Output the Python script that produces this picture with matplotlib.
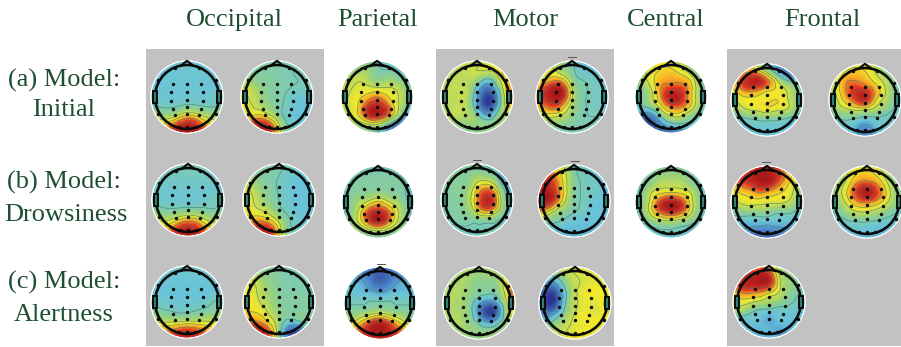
import numpy as np
import matplotlib
matplotlib.use("Agg")
import matplotlib.pyplot as plt
import matplotlib.tri as mtri
from matplotlib.colors import LinearSegmentedColormap
from matplotlib.patches import Circle, Rectangle

# ---- labels ----
col_names = ["Occipital", "Parietal", "Motor", "Central", "Frontal"]
row_names = ["(a) Model:", "Initial", "(b) Model:", "Drowsiness", "(c) Model:", "Alertness"]

# ---- scalp values, 0 = navy, 100 = dark red ----
# rows run top to bottom of the head, columns left to right
occ_a = [[38]*9,
         [33, 35, 37, 38, 38, 38, 37, 35, 33],
         [33, 36, 37, 37, 37, 37, 37, 36, 33],
         [38, 37, 37, 37, 37, 37, 37, 37, 38],
         [42, 38, 37, 37, 38, 38, 38, 40, 42],
         [47, 43, 42, 43, 46, 45, 43, 43, 47],
         [58, 55, 54, 62, 72, 68, 58, 55, 58],
         [65, 68, 76, 88, 96, 90, 76, 66, 65],
         [70, 75, 85, 92, 98, 92, 85, 75, 70]]
occ_b = [[45]*9,
         [50, 48, 46, 46, 45, 44, 43, 42, 40],
         [55, 52, 47, 46, 45, 44, 43, 42, 40],
         [62, 58, 52, 47, 45, 44, 42, 42, 42],
         [65, 60, 55, 48, 45, 42, 38, 38, 40],
         [68, 62, 58, 52, 46, 41, 37, 36, 38],
         [70, 68, 72, 66, 52, 40, 36, 36, 38],
         [80, 88, 94, 90, 68, 45, 38, 36, 38],
         [85, 90, 95, 90, 68, 48, 40, 40, 40]]
par_a = [[45, 45, 42, 42, 38, 35, 35, 35, 35],
         [48, 48, 50, 52, 45, 42, 40, 35, 33],
         [50, 55, 58, 55, 48, 50, 48, 42, 35],
         [52, 58, 62, 62, 60, 60, 58, 50, 40],
         [50, 60, 66, 72, 78, 70, 62, 52, 40],
         [50, 60, 68, 88, 96, 85, 64, 48, 32],
         [48, 56, 66, 86, 92, 80, 56, 32, 15],
         [47, 50, 52, 55, 55, 40, 20, 10, 5],
         [46, 48, 48, 48, 45, 25, 5, 2, 0]]
mot_a = [[55, 55, 55, 58, 60, 62, 62, 62, 55],
         [55, 55, 57, 58, 60, 62, 65, 70, 62],
         [55, 56, 57, 57, 55, 46, 55, 70, 70],
         [55, 57, 58, 56, 40, 20, 38, 68, 78],
         [55, 57, 58, 56, 30, 5, 22, 65, 82],
         [55, 56, 58, 55, 32, 8, 28, 62, 70],
         [52, 55, 57, 55, 48, 34, 46, 55, 55],
         [50]*9,
         [50]*9]
mot_b = [[45, 48, 50, 48, 42, 36, 34, 34, 34],
         [55, 58, 60, 52, 45, 38, 35, 33, 32],
         [62, 66, 70, 66, 50, 42, 40, 38, 35],
         [68, 82, 94, 90, 60, 45, 42, 40, 34],
         [68, 88, 98, 94, 62, 45, 42, 40, 34],
         [68, 76, 84, 74, 55, 45, 42, 40, 35],
         [60, 62, 62, 58, 50, 44, 43, 42, 40],
         [48, 48, 48, 47, 45, 44, 44, 44, 44],
         [45]*9]
cen_a = [[52, 58, 62, 64, 62, 55, 45, 40, 38],
         [50, 56, 64, 68, 68, 62, 52, 42, 38],
         [46, 55, 66, 72, 74, 72, 65, 48, 38],
         [44, 50, 62, 78, 84, 84, 72, 52, 40],
         [42, 46, 58, 78, 96, 92, 72, 52, 42],
         [40, 42, 50, 66, 80, 80, 68, 50, 42],
         [25, 18, 22, 45, 60, 60, 50, 42, 38],
         [5, 5, 10, 22, 35, 38, 38, 36, 35],
         [0, 0, 5, 10, 15, 15, 20, 30, 30]]
fro_a = [[55, 60, 62, 55, 40, 25, 15, 15, 20],
         [60, 68, 75, 72, 55, 35, 20, 20, 25],
         [65, 78, 92, 95, 82, 62, 45, 38, 35],
         [62, 72, 80, 78, 70, 66, 60, 50, 42],
         [52, 62, 66, 66, 66, 68, 62, 52, 45],
         [48, 54, 60, 62, 65, 62, 60, 50, 42],
         [40, 40, 42, 45, 46, 45, 42, 38, 36],
         [35, 35, 36, 37, 37, 37, 36, 35, 35],
         [35]*9]
fro_b = [[50, 58, 64, 66, 62, 52, 45, 40, 38],
         [50, 60, 68, 70, 68, 60, 52, 44, 38],
         [50, 62, 76, 78, 74, 66, 58, 48, 38],
         [48, 62, 78, 88, 88, 76, 62, 48, 38],
         [46, 58, 72, 85, 92, 72, 58, 46, 38],
         [44, 52, 58, 62, 62, 56, 50, 42, 36],
         [40, 42, 44, 42, 38, 40, 40, 37, 35],
         [36, 37, 38, 32, 22, 32, 38, 36, 35],
         [36, 37, 38, 34, 28, 34, 37, 36, 35]]

occ_c = [[42]*9,
         [40, 41, 42, 42, 42, 42, 40, 38, 36],
         [38, 40, 40, 40, 40, 40, 40, 38, 36],
         [40, 39, 38, 38, 38, 38, 38, 38, 38],
         [44, 40, 38, 38, 38, 38, 40, 42, 44],
         [50, 46, 44, 45, 46, 46, 44, 44, 48],
         [60, 58, 58, 66, 72, 68, 58, 56, 58],
         [65, 68, 76, 88, 94, 88, 74, 66, 65],
         [70, 75, 85, 92, 95, 90, 85, 72, 68]]
occ_d = [[48, 48, 48, 46, 44, 42, 40, 38, 38],
         [52, 50, 48, 46, 44, 40, 38, 36, 36],
         [58, 54, 48, 45, 42, 38, 36, 36, 36],
         [62, 60, 52, 47, 42, 38, 36, 36, 36],
         [65, 62, 55, 48, 43, 38, 36, 36, 36],
         [68, 64, 60, 55, 46, 40, 37, 36, 36],
         [70, 72, 74, 68, 56, 44, 38, 37, 38],
         [78, 86, 92, 88, 66, 46, 40, 38, 38],
         [82, 90, 95, 88, 66, 48, 42, 40, 40]]
par_b = [[35, 38, 40, 42, 42, 40, 38, 35, 33],
         [35, 38, 42, 44, 44, 44, 42, 38, 33],
         [36, 42, 46, 46, 46, 46, 46, 42, 35],
         [38, 44, 48, 48, 50, 48, 46, 42, 36],
         [40, 46, 54, 62, 70, 62, 54, 44, 38],
         [42, 46, 62, 84, 92, 82, 62, 46, 40],
         [44, 48, 62, 84, 96, 82, 60, 46, 42],
         [46, 48, 50, 55, 60, 55, 50, 46, 42],
         [45]*9]
mot_c = [[46, 46, 46, 46, 44, 42, 36, 25, 20],
         [46, 47, 47, 47, 48, 46, 40, 25, 18],
         [46, 47, 47, 48, 58, 60, 50, 30, 28],
         [45, 46, 47, 52, 70, 82, 68, 40, 30],
         [44, 46, 47, 54, 76, 94, 78, 44, 32],
         [43, 45, 46, 50, 68, 82, 68, 44, 34],
         [42, 44, 45, 46, 48, 50, 46, 40, 36],
         [42]*9,
         [42]*9]
mot_d = [[70, 75, 68, 55, 42, 38, 36, 34, 34],
         [82, 88, 75, 62, 46, 40, 38, 36, 34],
         [88, 92, 82, 65, 48, 42, 40, 36, 34],
         [92, 98, 88, 66, 48, 42, 40, 36, 34],
         [92, 98, 85, 62, 46, 42, 38, 36, 34],
         [80, 75, 60, 50, 44, 40, 36, 35, 34],
         [55, 50, 46, 42, 38, 36, 36, 36, 36],
         [42, 38, 36, 34, 34, 34, 34, 34, 34],
         [34]*9]
cen_b = [[38, 42, 45, 46, 45, 44, 42, 38, 35],
         [38, 42, 46, 50, 50, 50, 46, 42, 36],
         [40, 44, 50, 56, 56, 56, 50, 44, 38],
         [40, 46, 60, 66, 68, 66, 60, 46, 40],
         [40, 48, 66, 88, 96, 88, 66, 48, 40],
         [40, 48, 66, 84, 92, 84, 64, 46, 40],
         [38, 44, 50, 56, 58, 54, 48, 42, 38],
         [35, 38, 40, 42, 42, 40, 38, 36, 35],
         [32, 34, 35, 35, 35, 35, 35, 34, 32]]
fro_c = [[70, 80, 88, 92, 90, 85, 70, 60, 55],
         [72, 85, 92, 98, 98, 90, 75, 62, 52],
         [70, 80, 88, 96, 98, 86, 72, 60, 50],
         [62, 68, 72, 78, 76, 70, 66, 56, 48],
         [55, 60, 64, 64, 62, 62, 60, 52, 46],
         [45, 48, 50, 50, 50, 46, 46, 42, 40],
         [38, 38, 36, 36, 36, 36, 36, 36, 36],
         [30, 28, 25, 22, 20, 22, 25, 30, 32],
         [22, 20, 18, 15, 15, 15, 18, 22, 25]]
fro_d = [[40, 48, 55, 62, 62, 58, 50, 42, 38],
         [42, 50, 60, 68, 70, 66, 56, 46, 40],
         [44, 54, 64, 78, 82, 76, 62, 50, 42],
         [44, 56, 70, 88, 98, 86, 68, 52, 42],
         [42, 52, 64, 76, 80, 74, 62, 50, 40],
         [40, 46, 54, 60, 60, 56, 50, 44, 38],
         [36, 38, 42, 44, 44, 42, 40, 38, 36],
         [33, 35, 36, 37, 36, 34, 35, 35, 34],
         [32, 33, 34, 34, 34, 34, 34, 33, 32]]

occ_e = [[42]*9,
         [40, 38, 38, 38, 38, 38, 38, 38, 38],
         [38, 37, 37, 37, 37, 37, 37, 37, 38],
         [38, 37, 36, 36, 36, 36, 36, 38, 40],
         [44, 40, 38, 37, 37, 38, 40, 44, 46],
         [50, 46, 44, 42, 42, 44, 46, 48, 52],
         [60, 58, 58, 58, 60, 60, 60, 60, 60],
         [72, 76, 78, 84, 88, 84, 76, 70, 65],
         [80, 85, 88, 92, 95, 90, 85, 75, 68]]
occ_f = [[50, 52, 50, 46, 45, 44, 44, 42, 42],
         [58, 58, 52, 48, 46, 44, 44, 42, 40],
         [62, 62, 56, 50, 46, 45, 44, 44, 42],
         [66, 64, 58, 52, 47, 45, 45, 44, 42],
         [66, 66, 60, 54, 48, 46, 46, 46, 46],
         [70, 68, 66, 58, 50, 46, 46, 46, 46],
         [75, 78, 76, 66, 52, 40, 42, 46, 46],
         [85, 92, 95, 80, 50, 18, 10, 30, 42],
         [90, 95, 98, 85, 50, 15, 5, 25, 38]]
par_c = [[30, 28, 22, 18, 18, 20, 25, 30, 35],
         [32, 32, 25, 18, 12, 18, 25, 30, 32],
         [38, 36, 32, 22, 16, 22, 30, 32, 34],
         [40, 38, 36, 34, 30, 34, 36, 36, 36],
         [42, 42, 42, 44, 44, 44, 42, 42, 42],
         [48, 48, 50, 55, 58, 54, 50, 46, 44],
         [52, 58, 70, 85, 92, 82, 68, 55, 46],
         [60, 72, 85, 95, 100, 92, 82, 70, 55],
         [62, 75, 88, 92, 90, 90, 82, 70, 55]]
mot_e = [[52, 52, 52, 52, 52, 52, 55, 60, 62],
         [52, 52, 54, 54, 52, 52, 55, 65, 70],
         [52, 54, 55, 52, 48, 48, 52, 70, 80],
         [54, 55, 55, 50, 46, 44, 48, 68, 90],
         [54, 55, 54, 48, 32, 20, 34, 62, 80],
         [54, 55, 54, 48, 24, 4, 20, 58, 62],
         [52, 55, 55, 50, 40, 28, 40, 52, 55],
         [50, 50, 52, 52, 50, 50, 50, 50, 50],
         [50]*9]
mot_f = [[55, 56, 58, 60, 60, 62, 60, 55, 50],
         [48, 45, 48, 55, 60, 62, 62, 58, 52],
         [38, 25, 28, 48, 58, 62, 64, 64, 58],
         [25, 8, 10, 40, 58, 65, 66, 66, 66],
         [20, 5, 8, 42, 58, 64, 62, 68, 72],
         [28, 18, 28, 48, 60, 65, 62, 66, 68],
         [42, 40, 48, 56, 62, 65, 66, 64, 60],
         [54, 54, 58, 60, 64, 65, 65, 62, 58],
         [58, 60, 62, 64, 65, 65, 64, 60, 56]]
fro_e = [[55, 62, 70, 72, 68, 55, 48, 45, 45],
         [62, 78, 88, 92, 88, 60, 50, 46, 45],
         [72, 88, 96, 98, 94, 65, 52, 46, 44],
         [68, 78, 80, 78, 70, 60, 50, 44, 40],
         [62, 64, 62, 58, 54, 50, 46, 40, 38],
         [50, 52, 46, 40, 38, 38, 38, 36, 35],
         [40, 36, 36, 36, 30, 36, 36, 35, 35],
         [36, 36, 36, 32, 34, 28, 32, 34, 35],
         [36]*9]

# ---- electrode positions on the head, radius 1 ----
elec_x = [-.45, 0, .45, -.5, 0, .5, -.5, 0, .5, -.44, 0, .44, -.36, 0, .36,
          -.36, .36, -.92, .92, -.92, .92, -.26, 0, .26]
elec_y = [.42, .40, .42, .15, .15, .15, -.12, -.10, -.12, -.36, -.31, -.36, -.55, -.52, -.55,
          .92, .92, .52, .52, -.52, -.52, -.93, -.93, -.93]

# little grey marks above a few heads
mark_x = [572, 477, 575, 766, 381]
mark_y = [57, 160, 161, 162, 264]

cmap = LinearSegmentedColormap.from_list("eeg", [
    (0.00, "#2b2f8f"), (0.20, "#4a7fc8"), (0.36, "#69c4da"), (0.44, "#7fcbb0"),
    (0.52, "#9bd27a"), (0.60, "#d2e04a"), (0.66, "#f4e92b"), (0.75, "#f8a822"),
    (0.86, "#e5301f"), (1.00, "#a81a1a")])

GREEN = "#1f4f33"
GREY = "#c2c2c2"
R = 32.0


def draw_head(ax, values, cx, cy):
    # grid of the values in pixels, refined by matplotlib's cubic interpolation
    gx, gy = np.meshgrid(np.linspace(-1.2, 1.2, 9), np.linspace(1.2, -1.2, 9))
    tri = mtri.Triangulation((cx + R * gx).ravel(), (cy - R * gy).ravel())
    refiner = mtri.UniformTriRefiner(tri)
    fine_tri, fine_z = refiner.refine_field(np.array(values, dtype=float).ravel(), subdiv=3)

    ax.add_patch(Circle((cx, cy), 36.8, fc="white", ec="none", zorder=2))
    disc = Circle((cx, cy), 35.2, transform=ax.transData)
    pc = ax.tripcolor(fine_tri, fine_z, shading="gouraud", cmap=cmap, vmin=0, vmax=100, zorder=3)
    pc.set_clip_path(disc)
    cs = ax.tricontour(fine_tri, fine_z, levels=[14, 28, 43, 60, 68, 78, 89], colors="#3a7d70",
                       linewidths=0.55, alpha=0.7, zorder=4)
    cs.set_clip_path(disc)

    # head outline, nose, ears, electrodes
    ax.add_patch(Circle((cx, cy), R, fc="none", ec="#0a0a0a", lw=1.9, zorder=5))
    ax.plot([cx - .2 * R, cx, cx + .2 * R], [cy - .98 * R, cy - 1.13 * R, cy - .98 * R],
            color="#0a0a0a", lw=1.5, zorder=5)
    for side in (-1, 1):
        ax.add_patch(Rectangle((cx + side * 1.0 * R - .07 * R, cy - .2 * R), .14 * R, .4 * R,
                               fc="#2f7f72", ec="#0a0a0a", lw=1.4, zorder=5))
    ax.scatter(cx + R * np.array(elec_x), cy - R * np.array(elec_y), s=6, c="#0a0a0a",
               linewidths=0, zorder=6)


plt.rcParams["font.family"] = ["Liberation Serif", "DejaVu Serif"]

fig = plt.figure(figsize=(9.01, 3.47), dpi=100)
ax = fig.add_axes([0, 0, 1, 1])
ax.set_xlim(0, 901)
ax.set_ylim(347, 0)
ax.axis("off")

# grey panels behind occipital, motor and frontal
for x0, x1 in [(146, 324), (436, 614), (727, 901)]:
    ax.add_patch(Rectangle((x0, 49), x1 - x0, 297, fc=GREY, ec="none", zorder=1))

heads = [(occ_a, 187, 97), (occ_b, 277, 97), (par_a, 377, 97), (mot_a, 477, 97), (mot_b, 572, 97),
         (cen_a, 671, 97), (fro_a, 767, 100), (fro_b, 865, 100),
         (occ_c, 188, 200), (occ_d, 279, 200), (par_b, 378, 202), (mot_c, 477, 200), (mot_d, 574, 201),
         (cen_b, 671, 202), (fro_c, 767, 202), (fro_d, 867, 202),
         (occ_e, 187, 302), (occ_f, 279, 302), (par_c, 380, 303), (mot_e, 479, 303), (mot_f, 575, 303),
         (fro_e, 769, 302)]
for values, cx, cy in heads:
    draw_head(ax, values, cx, cy)

for x, y in zip(mark_x, mark_y):
    ax.plot([x - 4, x + 4], [y, y], color="#555555", lw=0.7, zorder=6)

for name, x in zip(col_names, [234, 377, 525, 666, 822]):
    ax.text(x, 20, name, ha="center", va="center", fontsize=19, color=GREEN)
for name, x, y in zip(row_names, [64, 64, 64, 66, 64, 64], [80, 110, 182, 215, 282, 315]):
    ax.text(x, y, name, ha="center", va="center", fontsize=19, color=GREEN)

fig.savefig("out.png", dpi=100)
